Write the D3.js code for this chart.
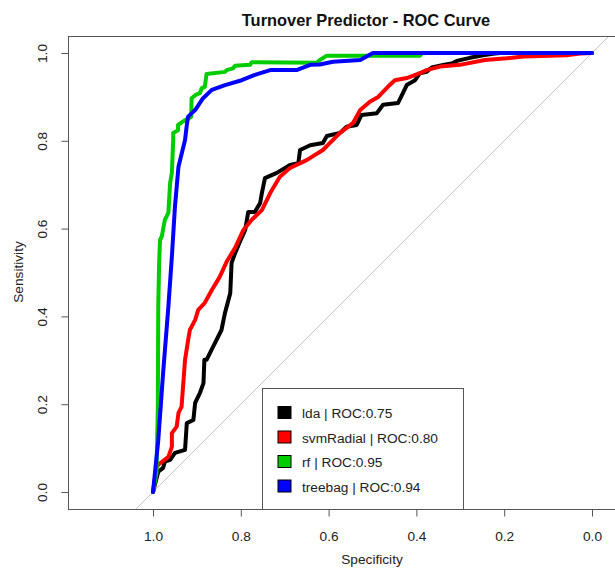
<!DOCTYPE html>
<html>
<head>
<meta charset="utf-8">
<script src="https://cdn.jsdelivr.net/npm/d3@7"></script>
<style>
  html, body { margin: 0; padding: 0; background: #fff; }
  svg { display: block; }
  text { font-family: "Liberation Sans", Arial, sans-serif; }
</style>
</head>
<body>
<svg id="chart" width="615" height="568"></svg>
<script>
// ---- data: [specificity, sensitivity] ----
const title = "Turnover Predictor - ROC Curve";
const xLabel = "Specificity";
const yLabel = "Sensitivity";
const xTicks = [1.0, 0.8, 0.6, 0.4, 0.2, 0.0];
const yTicks = [0.0, 0.2, 0.4, 0.6, 0.8, 1.0];

const modelNames = ["lda", "svmRadial", "rf", "treebag"];
const modelAUC = ["0.75", "0.80", "0.95", "0.94"];
const modelColors = ["#000000", "#FF0000", "#00CD00", "#0000FF"];

const ldaRoc = [
  [1,0],[0.988,0.046],[0.977,0.055],[0.973,0.069],[0.961,0.073],[0.950,0.089],
  [0.927,0.096],[0.923,0.157],[0.908,0.164],[0.904,0.203],[0.893,0.226],[0.885,0.248],
  [0.883,0.301],[0.878,0.301],[0.863,0.331],[0.844,0.369],[0.836,0.408],[0.824,0.453],
  [0.821,0.522],[0.813,0.544],[0.802,0.570],[0.790,0.597],[0.783,0.638],[0.768,0.638],
  [0.756,0.658],[0.752,0.681],[0.745,0.715],[0.718,0.727],[0.688,0.745],[0.669,0.749],
  [0.665,0.779],[0.642,0.790],[0.613,0.795],[0.604,0.811],[0.574,0.818],[0.559,0.832],
  [0.536,0.836],[0.525,0.859],[0.490,0.863],[0.476,0.882],[0.442,0.886],[0.433,0.904],
  [0.422,0.927],[0.403,0.938],[0.392,0.954],[0.377,0.957],[0.365,0.967],[0.339,0.973],
  [0.317,0.977],[0.308,0.982],[0.278,0.989],[0.248,0.995],[0.226,0.998],[0.210,1],[0,1]
];
const svmRoc = [
  [1,0],[0.992,0.055],[0.988,0.062],[0.965,0.080],[0.957,0.103],[0.957,0.134],
  [0.946,0.149],[0.942,0.180],[0.935,0.194],[0.927,0.301],[0.920,0.346],[0.916,0.369],
  [0.904,0.392],[0.897,0.415],[0.882,0.431],[0.866,0.460],[0.848,0.490],[0.832,0.525],
  [0.813,0.556],[0.794,0.597],[0.775,0.620],[0.752,0.642],[0.733,0.681],[0.711,0.718],
  [0.688,0.738],[0.650,0.756],[0.613,0.779],[0.574,0.818],[0.544,0.841],[0.528,0.870],
  [0.506,0.889],[0.487,0.900],[0.465,0.923],[0.449,0.938],[0.422,0.943],[0.392,0.954],
  [0.377,0.961],[0.346,0.969],[0.301,0.973],[0.244,0.984],[0.194,0.988],[0.157,0.992],
  [0.058,0.995],[0.027,0.999],[0,1]
];
const rfRoc = [
  [1,0],[0.992,0.043],[0.989,0.194],[0.988,0.422],[0.986,0.522],[0.984,0.574],
  [0.980,0.582],[0.973,0.620],[0.965,0.636],[0.961,0.704],[0.957,0.727],[0.954,0.802],
  [0.954,0.818],[0.943,0.824],[0.943,0.836],[0.927,0.847],[0.913,0.855],[0.912,0.897],
  [0.904,0.904],[0.893,0.909],[0.889,0.920],[0.882,0.923],[0.878,0.952],[0.836,0.957],
  [0.832,0.961],[0.818,0.965],[0.813,0.971],[0.779,0.973],[0.775,0.979],[0.627,0.978],
  [0.620,0.984],[0.604,0.994],[0.392,0.994],[0.387,1],[0,1]
];
const treebagRoc = [
  [1,0],[0.988,0.118],[0.977,0.271],[0.965,0.422],[0.957,0.536],[0.950,0.650],
  [0.942,0.741],[0.927,0.802],[0.923,0.836],[0.920,0.855],[0.904,0.870],[0.886,0.897],
  [0.866,0.916],[0.836,0.927],[0.798,0.938],[0.768,0.950],[0.733,0.961],[0.673,0.961],
  [0.642,0.973],[0.620,0.974],[0.590,0.980],[0.528,0.984],[0.499,1],[0,1]
];
const rocData = [ldaRoc, svmRoc, rfRoc, treebagRoc];

// ---- layout ----
const svg = d3.select("#chart");
const box = { left: 68, top: 36, right: 677, bottom: 509 };
const baseFont = "13.7px";

const x = d3.scaleLinear().domain([1, 0]).range([153, 592]);
const y = d3.scaleLinear().domain([0, 1]).range([492, 53]);

svg.append("defs").append("clipPath").attr("id", "plotclip")
  .append("rect")
  .attr("x", box.left).attr("y", box.top)
  .attr("width", box.right - box.left).attr("height", box.bottom - box.top);

const plot = svg.append("g").attr("clip-path", "url(#plotclip)");

// identity line
plot.append("line")
  .attr("x1", x(1.3)).attr("y1", y(-0.3))
  .attr("x2", x(-0.3)).attr("y2", y(1.3))
  .attr("stroke", "#c8c8c8").attr("stroke-width", 1);

// curves
const line = d3.line().x(d => x(d[0])).y(d => y(d[1]));
rocData.forEach((data, i) => {
  plot.append("path")
    .datum(data)
    .attr("d", line)
    .attr("fill", "none")
    .attr("stroke", modelColors[i])
    .attr("stroke-width", 4)
    .attr("stroke-linejoin", "round")
    .attr("stroke-linecap", "round");
});

// legend
const leg = plot.append("g");
leg.append("rect")
  .attr("x", 262.5).attr("y", 388.5).attr("width", 201).attr("height", 140)
  .attr("fill", "#fff").attr("stroke", "#555").attr("stroke-width", 1);
const rowY = [413, 437.5, 462, 486.5];
modelNames.forEach((name, i) => {
  leg.append("rect")
    .attr("x", 278).attr("y", rowY[i] - 6.5).attr("width", 13).attr("height", 12)
    .attr("fill", modelColors[i]).attr("stroke", "#000").attr("stroke-width", 1);
  leg.append("text")
    .attr("x", 302).attr("y", rowY[i] + 5)
    .attr("font-size", baseFont).attr("fill", "#222")
    .text(name + " | ROC:" + modelAUC[i]);
});

// box
svg.append("rect")
  .attr("x", box.left + 0.5).attr("y", box.top + 0.5)
  .attr("width", box.right - box.left).attr("height", box.bottom - box.top)
  .attr("fill", "none").attr("stroke", "#555").attr("stroke-width", 1);

// axes
const xAxis = svg.append("g")
  .attr("transform", `translate(0,${box.bottom + 0.5})`)
  .call(d3.axisBottom(x).tickValues(xTicks).tickFormat(d3.format(".1f")).tickSize(7).tickPadding(15));
xAxis.select(".domain").remove();
xAxis.selectAll("line").attr("stroke", "#555");
xAxis.selectAll("text").attr("font-size", baseFont).attr("fill", "#222")
  .attr("font-family", "Liberation Sans, Arial, sans-serif");

const yAxis = svg.append("g")
  .attr("transform", `translate(${box.left + 0.5},0)`)
  .call(d3.axisLeft(y).tickValues(yTicks).tickFormat(d3.format(".1f")).tickSize(7));
yAxis.select(".domain").remove();
yAxis.selectAll("line").attr("stroke", "#555");
yAxis.selectAll("text")
  .attr("font-size", baseFont).attr("fill", "#222")
  .attr("font-family", "Liberation Sans, Arial, sans-serif")
  .attr("x", null).attr("dy", null)
  .attr("text-anchor", "middle")
  .attr("transform", "translate(-26,0) rotate(-90)")
  .attr("y", 4);

// titles
svg.append("text")
  .attr("x", 366).attr("y", 26)
  .attr("text-anchor", "middle")
  .attr("font-size", "16.4px").attr("font-weight", "bold").attr("fill", "#111")
  .text(title);

svg.append("text")
  .attr("x", 372).attr("y", 564)
  .attr("text-anchor", "middle")
  .attr("font-size", baseFont).attr("fill", "#222")
  .text(xLabel);

svg.append("text")
  .attr("transform", "translate(23,272) rotate(-90)")
  .attr("text-anchor", "middle")
  .attr("font-size", baseFont).attr("fill", "#222")
  .text(yLabel);
</script>
</body>
</html>
